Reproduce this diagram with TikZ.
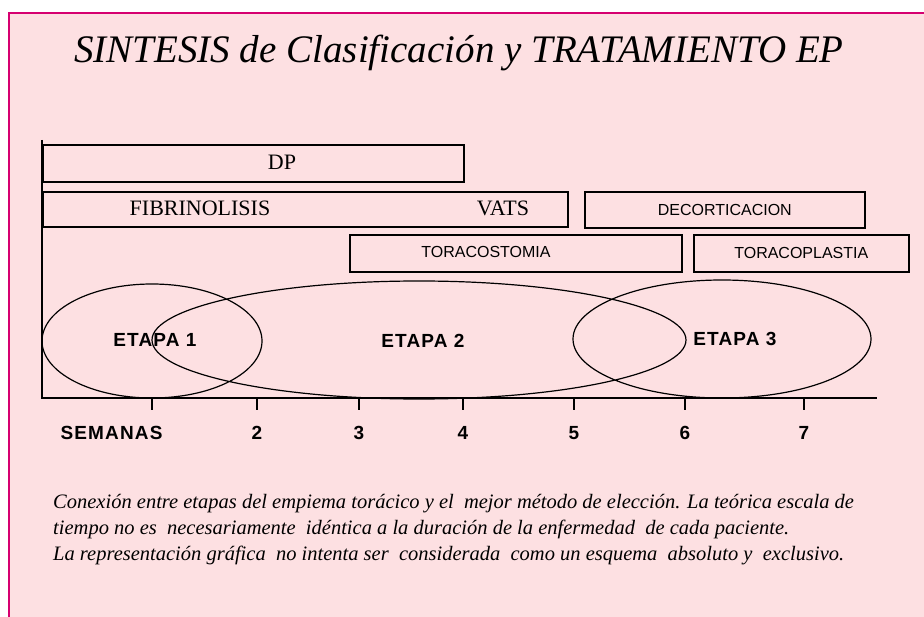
\documentclass[tikz,border=0pt]{standalone}
\usepackage{fontspec}
\setmainfont{Liberation Serif}
\setsansfont{Liberation Sans}
\definecolor{fondo}{RGB}{253,224,226}
\definecolor{marco}{RGB}{214,0,112}
\tikzset{
  caja/.style={draw, line width=1.6pt, inner sep=0pt, anchor=north west},
  serif/.style={font=\fontsize{22}{26}\selectfont},
  sans/.style={font=\sffamily\fontsize{16}{19}\selectfont},
  etapa/.style={font=\sffamily\bfseries\fontsize{19}{23}\selectfont\addfontfeature{LetterSpace=6}},
  nota/.style={anchor=base west, inner sep=0pt, font=\itshape\fontsize{20.5}{24}\selectfont}
}
\begin{document}
\begin{tikzpicture}[x=1pt, y=-1pt]
  \useasboundingbox (0,0) rectangle (924,617);
  \fill[fondo] (9,13) rectangle (930,625);
  \draw[marco, line width=1.5pt] (930,13) -- (9,13) -- (9,625);

  \node[anchor=base west, inner sep=0pt, font=\itshape\fontsize{39}{46}\selectfont]
    (titulo) at (74,63) {SINTESIS de Clasificación y TRATAMIENTO EP};

  % the boxes
  \node[caja, minimum width=421, minimum height=37] (dp)   at (42,144) {};
  \node[caja, minimum width=525, minimum height=35] (trat) at (42,191) {};
  \node[caja, minimum width=280, minimum height=36] (deco) at (584,191) {};
  \node[caja, minimum width=332, minimum height=37] (costo) at (349,234) {};
  \node[caja, minimum width=215, minimum height=37] (plastia) at (693,234) {};

  \node[serif] (dptxt)   at (282,162) {DP};
  \node[serif] (fibtxt)  at (200,208) {FIBRINOLISIS};
  \node[serif] (vatstxt) at (503,208) {VATS};
  \node[sans]  (decotxt) at (deco.center) {DECORTICACION};
  \node[sans]  (costotxt) at (486,252) {TORACOSTOMIA};
  \node[sans]  (plastiatxt) at (plastia.center) {TORACOPLASTIA};

  % the stages
  \draw[line width=1.2pt] (152,341) ellipse (110 and 57)
                          (419,340) ellipse (267 and 59)
                          (722,339) ellipse (149 and 59);
  \node[etapa] (etapa1) at (155,340) {ETAPA 1};
  \node[etapa] (etapa2) at (423,341) {ETAPA 2};
  \node[etapa] (etapa3) at (735,339) {ETAPA 3};

  % the axes
  \draw[line width=2.6pt] (42,140) -- (42,398) -- (877,398);
  \foreach \x in {152,257,359,463,574,685,804}
    \draw[line width=2.2pt] (\x,398) -- (\x,410);
  \node[etapa, anchor=east] (semanas) at (166,433) {SEMANAS};
  \foreach \x/\n in {257/2,359/3,463/4,574/5,685/6,804/7}
    \node[etapa] (s\n) at (\x,433) {\n};

  \node[nota] (nota1) at (53,508) {Conexión entre etapas del empiema torácico y el \ mejor método de elección. La teórica escala de};
  \node[nota] (nota2) at (53,534) {tiempo no es \ necesariamente \ idéntica a la duración de la enfermedad \ de cada paciente.};
  \node[nota] (nota3) at (53,560) {La representación gráfica \ no intenta ser \ considerada \ como un esquema \ absoluto y \ exclusivo.};
\end{tikzpicture}
\end{document}
